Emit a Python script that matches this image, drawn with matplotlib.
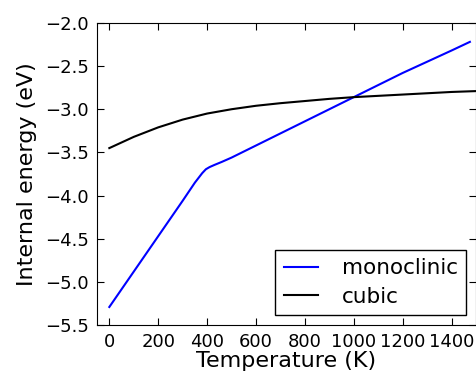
import matplotlib
matplotlib.use("Agg")
import matplotlib.pyplot as plt

temp_mono = [0, 100, 200, 300, 350, 380, 395, 410, 430, 460, 500, 600, 700, 800, 900, 1000, 1100, 1200, 1300, 1400, 1475]
e_mono = [-5.29, -4.88, -4.47, -4.06, -3.85, -3.74, -3.695, -3.67, -3.645, -3.61, -3.56, -3.42, -3.28, -3.14, -3.00, -2.86, -2.72, -2.58, -2.45, -2.32, -2.22]

temp_cubic = [0, 100, 200, 300, 400, 500, 600, 700, 800, 900, 1000, 1100, 1200, 1300, 1400, 1500]
e_cubic = [-3.45, -3.32, -3.21, -3.12, -3.05, -3.0, -2.96, -2.93, -2.905, -2.88, -2.86, -2.845, -2.83, -2.815, -2.80, -2.79]

xticks = [0, 200, 400, 600, 800, 1000, 1200, 1400]
yticks = [-5.5, -5.0, -4.5, -4.0, -3.5, -3.0, -2.5, -2.0]

fig = plt.figure(figsize=(4.76, 3.75), dpi=100)
ax = fig.add_axes([0.204, 0.133, 0.796, 0.806])
ax.plot(temp_mono, e_mono, color="#0000ff", lw=1.5, label="monoclinic")
ax.plot(temp_cubic, e_cubic, color="black", lw=1.5, label="cubic")
ax.set_xlim(-50, 1500)
ax.set_ylim(-5.5, -2.0)
ax.set_xticks(xticks)
ax.set_yticks(yticks)
ax.set_yticklabels([f"{v:.1f}".replace("-", "\u2212") for v in yticks])
ax.tick_params(direction="in", top=True, right=True, labelsize=13, length=5, pad=6)
ax.set_xlabel("Temperature (K)", fontsize=16, labelpad=0)
ax.set_ylabel("Internal energy (eV)", fontsize=16, labelpad=6)
leg = ax.legend(loc="lower right", fontsize=15.5, fancybox=False, framealpha=1,
                edgecolor="black", handlelength=1.6, handletextpad=1.1,
                borderaxespad=0.45, labelspacing=0.4)
leg.get_frame().set_linewidth(1.0)
fig.savefig("out.png", dpi=100, facecolor="white")
